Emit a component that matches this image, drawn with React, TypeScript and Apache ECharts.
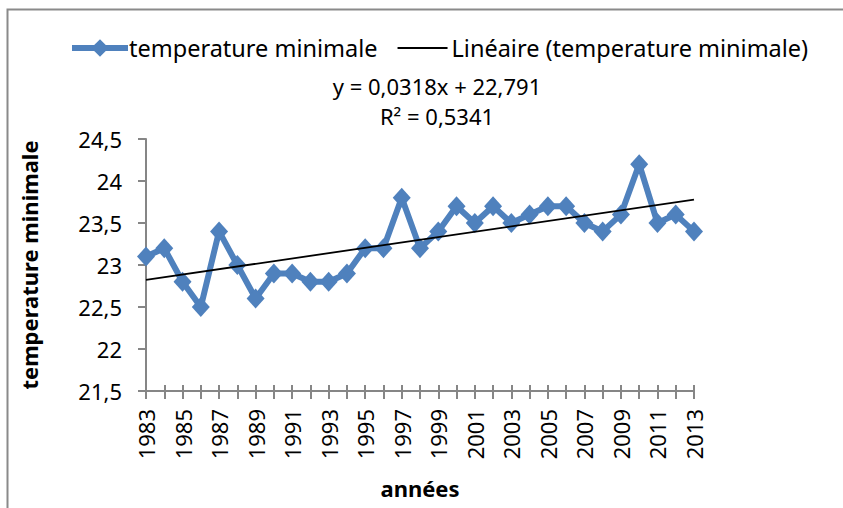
import React, { useEffect, useRef } from "react";
import * as echarts from "echarts";

const YEARS = ["1983","1984","1985","1986","1987","1988","1989","1990","1991","1992","1993","1994","1995","1996","1997","1998","1999","2000","2001","2002","2003","2004","2005","2006","2007","2008","2009","2010","2011","2012","2013"];
const TEMP_MIN = [23.1,23.2,22.8,22.5,23.4,23.0,22.6,22.9,22.9,22.8,22.8,22.9,23.2,23.2,23.8,23.2,23.4,23.7,23.5,23.7,23.5,23.6,23.7,23.7,23.5,23.4,23.6,24.2,23.5,23.6,23.4];
// trend line end values (from y = 0,0318x + 22,791 at x=1 and x=31)
const TREND_ENDS = [22.823, 23.777];
const SERIES_NAME = "temperature minimale";
const TREND_NAME = "Linéaire (temperature minimale)";
const EQUATION = "y = 0,0318x + 22,791";
const R2 = "R² = 0,5341";

const FONT = "Noto Sans";
const BLUE = "#4F81BD";
const GRAY = "#868686";

export default function App() {
  const ref = useRef<HTMLDivElement>(null);
  useEffect(() => {
    if (!ref.current) return;
    const chart = echarts.init(ref.current, null, { renderer: "svg" });
    const trendData = YEARS.map((_, i) =>
      i === 0 ? TREND_ENDS[0] : i === YEARS.length - 1 ? TREND_ENDS[1] : "-"
    );
    chart.setOption({
      animation: false,
      backgroundColor: "#ffffff",
      textStyle: { fontFamily: FONT },
      grid: { left: 146, right: 149, top: 139, bottom: 117 },
      legend: {
        top: 31,
        left: 64,
        itemGap: 20,
        itemWidth: 56,
        itemHeight: 22,
        textStyle: { fontSize: 23.5, color: "#000", fontFamily: FONT, padding: [0, 0, 0, -4] },
        data: [
          { name: SERIES_NAME, lineStyle: { width: 6, color: BLUE } },
          {
            name: TREND_NAME,
            icon: "path://M0,0L0.01,0L0.01,0.01Z M0,10.1H50V11.9H0Z M0,22L0.01,22L0.01,21.99Z",
            itemStyle: { color: "#000" },
          },
        ],
      },
      xAxis: [
        {
          type: "category",
          data: YEARS,
          boundaryGap: false,
          name: "années",
          nameLocation: "middle",
          nameGap: 86,
          nameTextStyle: { fontSize: 22, fontWeight: "bold", color: "#000", fontFamily: FONT },
          axisLine: { lineStyle: { color: GRAY, width: 2 } },
          axisTick: { show: true, interval: 0, length: 8, lineStyle: { color: GRAY, width: 2 } },
          axisLabel: { interval: 1, rotate: 90, fontSize: 22, color: "#000", margin: 18, fontFamily: FONT },
          splitLine: { show: false },
        },
        {
          type: "category",
          data: YEARS,
          boundaryGap: false,
          position: "bottom",
          axisLine: { show: false },
          axisTick: { show: true, inside: true, interval: 0, length: 6, lineStyle: { color: GRAY, width: 2 } },
          axisLabel: { show: false },
          splitLine: { show: false },
        },
      ],
      yAxis: {
        type: "value",
        min: 21.5,
        max: 24.5,
        interval: 0.5,
        name: "temperature minimale",
        nameLocation: "middle",
        nameGap: 106,
        nameTextStyle: { fontSize: 22, fontWeight: "bold", color: "#000", fontFamily: FONT },
        axisLine: { show: true, lineStyle: { color: GRAY, width: 2 } },
        axisTick: { show: true, length: 8, lineStyle: { color: GRAY, width: 2 } },
        axisLabel: {
          fontSize: 22,
          color: "#000",
          margin: 24,
          fontFamily: FONT,
          formatter: (v: number) => String(v).replace(".", ","),
        },
        splitLine: { show: false },
      },
      series: [
        {
          name: SERIES_NAME,
          type: "line",
          data: TEMP_MIN,
          lineStyle: { width: 6, color: BLUE },
          itemStyle: { color: BLUE },
          symbol: "diamond",
          symbolSize: [18, 20],
          showAllSymbol: true,
          z: 3,
        },
        {
          name: TREND_NAME,
          type: "line",
          data: trendData,
          connectNulls: true,
          lineStyle: { width: 1.8, color: "#000" },
          itemStyle: { color: "#000" },
          symbol: "none",
          z: 4,
        },
      ],
      graphic: [
        {
          type: "rect",
          shape: { x: 7.5, y: 9.5, width: 900, height: 600 },
          style: { fill: "none", stroke: "#8a8a8a", lineWidth: 2 },
          silent: true,
        },
        {
          type: "text",
          x: 437,
          y: 86,
          style: { text: EQUATION, fontSize: 22, fontFamily: FONT, fill: "#000", align: "center", verticalAlign: "middle" },
        },
        {
          type: "text",
          x: 437,
          y: 116,
          style: { text: R2, fontSize: 22, fontFamily: FONT, fill: "#000", align: "center", verticalAlign: "middle" },
        },
      ],
    });
    return () => chart.dispose();
  }, []);
  return (
    <div
      ref={ref}
      style={{ position: "fixed", left: 0, top: 0, width: 843, height: 508 }}
    />
  );
}
